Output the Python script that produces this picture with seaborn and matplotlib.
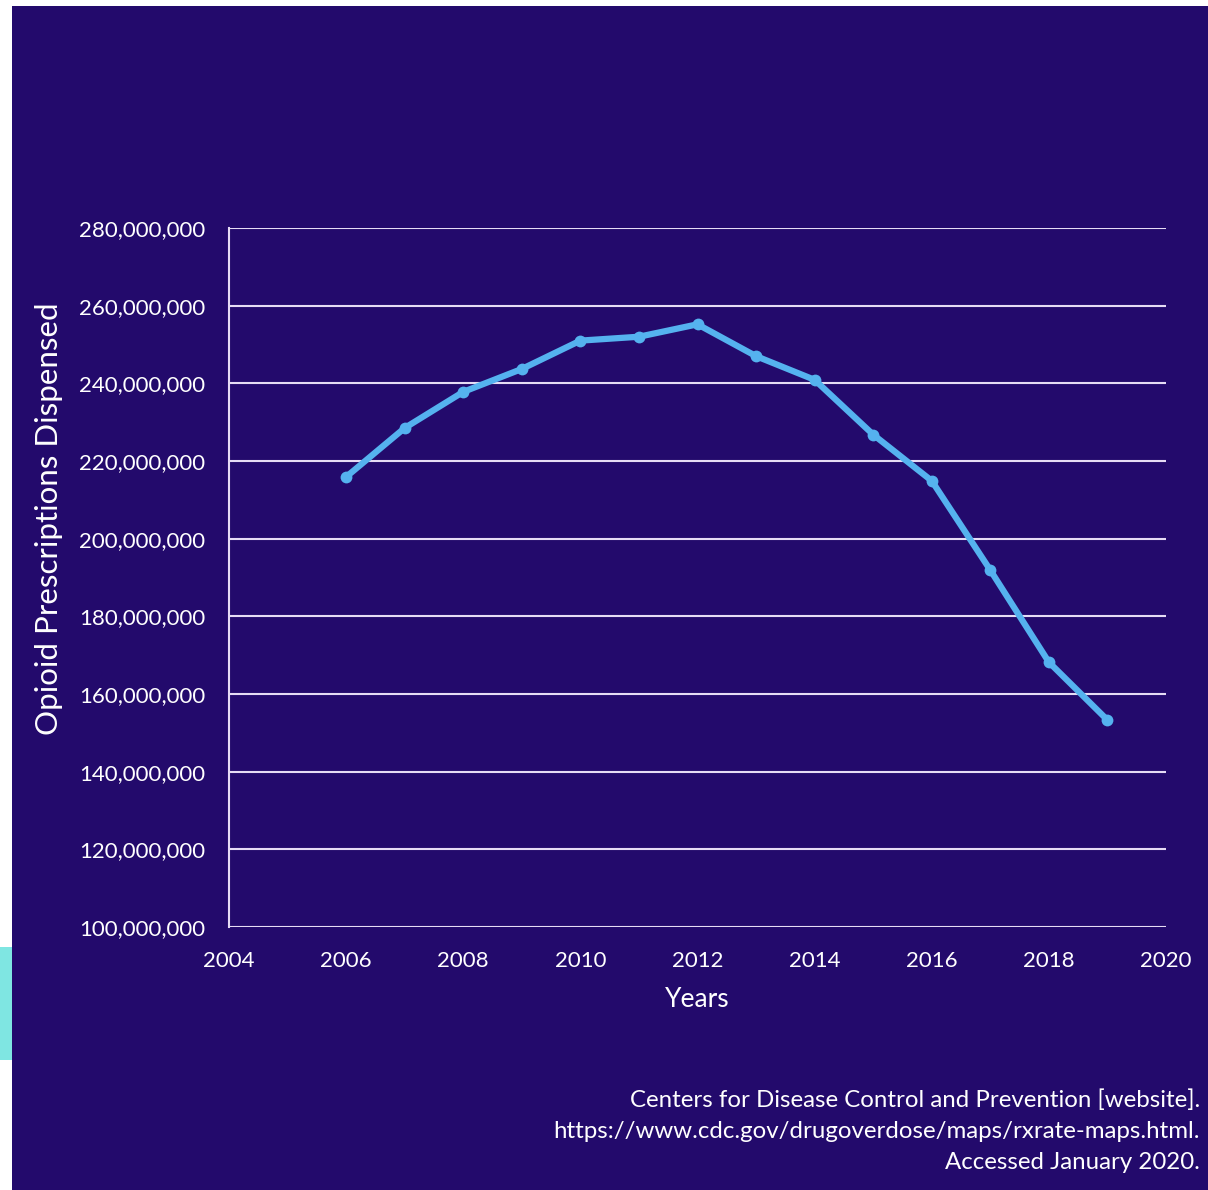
import pandas as pd
import matplotlib.pyplot as plt
import seaborn as sns
from matplotlib.patches import Rectangle
from matplotlib.ticker import FuncFormatter

# data (opioid prescriptions dispensed, US)
years = [2006, 2007, 2008, 2009, 2010, 2011, 2012, 2013, 2014, 2015, 2016, 2017, 2018, 2019]
prescriptions = [215.9, 228.5, 237.8, 243.7, 251.0, 252.0, 255.2, 247.0, 240.9, 226.8, 214.9, 191.9, 168.2, 153.3]
prescriptions = [v * 1e6 for v in prescriptions]
source_lines = ["Centers for Disease Control and Prevention [website].",
                "https://www.cdc.gov/drugoverdose/maps/rxrate-maps.html.",
                "Accessed January 2020."]

df = pd.DataFrame({"Years": years, "Rx": prescriptions})

BG = "#230a6c"
GRID = "#e6dcf5"
LINE = "#55b2ef"

sns.set_style("white")
plt.rcParams['font.family'] = ['Lato', 'DejaVu Sans']

fig = plt.figure(figsize=(12.08, 11.90), dpi=100)
fig.patch.set_facecolor("white")
fig.patches.append(Rectangle((12 / 1208, 0), 1 - 12 / 1208, 1 - 6 / 1190,
                             transform=fig.transFigure, facecolor=BG, edgecolor="none", zorder=-2))
fig.patches.append(Rectangle((0, 1 - 1060 / 1190), 12 / 1208, 113 / 1190,
                             transform=fig.transFigure, facecolor="#7fe6e2", edgecolor="none", zorder=-2))

ax = fig.add_axes([229 / 1208, 1 - 927 / 1190, (1166 - 229) / 1208, (927 - 228) / 1190])
ax.set_facecolor(BG)

sns.lineplot(data=df, x="Years", y="Rx", ax=ax, color=LINE, linewidth=4.5,
             marker="o", markersize=8.5, markeredgewidth=0, zorder=3)

ax.set_xlim(2004, 2020)
ax.set_ylim(100e6, 280e6)
ax.set_xticks(range(2004, 2021, 2))
ax.set_yticks(range(100_000_000, 280_000_001, 20_000_000))
ax.yaxis.set_major_formatter(FuncFormatter(lambda v, p: f"{int(v):,}"))
ax.grid(axis="y", color=GRID, linewidth=1.5)
ax.set_axisbelow(True)
for side in ["top", "right", "bottom"]:
    ax.spines[side].set_visible(False)
ax.spines["left"].set_color(GRID)
ax.spines["left"].set_linewidth(1.5)
ax.tick_params(axis="both", colors="white", labelsize=16, length=0)
ax.tick_params(axis="y", pad=17)
ax.tick_params(axis="x", pad=17)

ax.set_xlabel("Years", color="white", fontsize=19, labelpad=12)
ax.set_ylabel("Opioid Prescriptions Dispensed", color="white", fontsize=22.5)
ax.yaxis.set_label_coords(-0.177, 0.584)

fig.text(1200 / 1208, 1 - 1131 / 1190, "\n".join(source_lines), ha="right", va="center",
         color="white", fontsize=17.3, linespacing=1.58)

fig.savefig("out.png", dpi=100, facecolor=fig.get_facecolor())
